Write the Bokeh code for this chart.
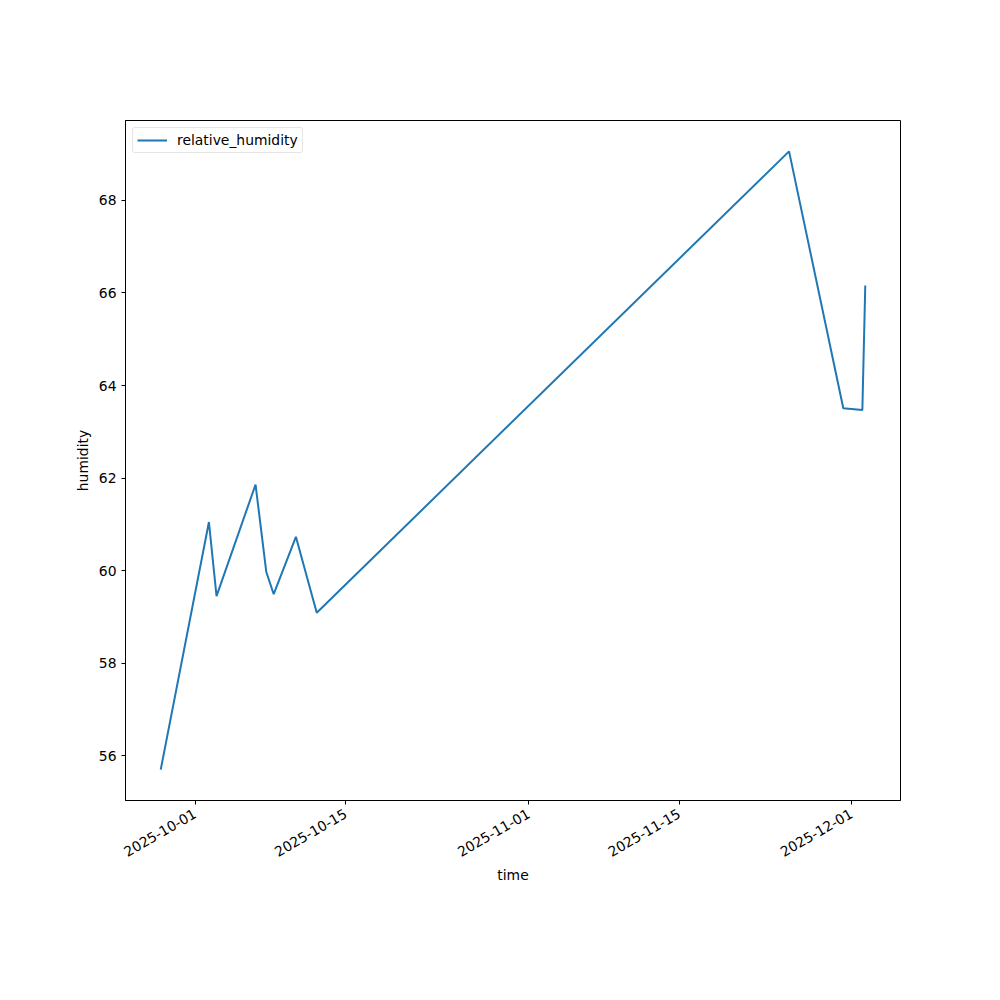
import pandas as pd
from bokeh.plotting import figure
from bokeh.models import FixedTicker, DatetimeTickFormatter, Range1d, Legend, LegendItem
from bokeh.embed import file_html
from bokeh.resources import INLINE
import math

times = ["2025-09-27 19:30", "2025-10-02 07:00", "2025-10-03 00:00", "2025-10-06 15:00",
         "2025-10-07 15:00", "2025-10-08 07:30", "2025-10-10 09:00", "2025-10-12 07:30",
         "2025-11-25 05:00", "2025-11-30 06:00", "2025-12-02 00:30", "2025-12-02 07:00"]
humidity = [55.70, 61.05, 59.45, 61.86, 59.97, 59.49, 60.73, 59.09, 69.06, 63.51, 63.47, 66.16]
tick_dates = ["2025-10-01", "2025-10-15", "2025-11-01", "2025-11-15", "2025-12-01"]
y_ticks = [56, 58, 60, 62, 64, 66, 68]

t = pd.to_datetime(times)
tms = [(x - pd.Timestamp("1970-01-01")) / pd.Timedelta(milliseconds=1) for x in t]
span = tms[-1] - tms[0]
ymin, ymax = min(humidity), max(humidity)
yspan = ymax - ymin

p = figure(width=984, height=984, x_axis_type="datetime", output_backend="svg",
           toolbar_location=None,
           x_range=Range1d(tms[0] - 0.05 * span, tms[-1] + 0.05 * span),
           y_range=Range1d(ymin - 0.05 * yspan, ymax + 0.05 * yspan),
           min_border_left=125, min_border_right=84, min_border_top=120, min_border_bottom=184)

r = p.line(t, humidity, line_color="#1f77b4", line_width=2)

tick_ms = [(pd.Timestamp(d) - pd.Timestamp("1970-01-01")) / pd.Timedelta(milliseconds=1) for d in tick_dates]
p.xaxis.ticker = FixedTicker(ticks=tick_ms)
p.xaxis.formatter = DatetimeTickFormatter(days="%Y-%m-%d", months="%Y-%m-%d", years="%Y-%m-%d",
                                          hours="%Y-%m-%d")
p.xaxis.major_label_orientation = math.pi / 6
p.xaxis.major_label_standoff = 8
p.yaxis.ticker = FixedTicker(ticks=y_ticks)

p.xaxis.axis_label = "time"
p.yaxis.axis_label = "humidity"
for ax in (p.xaxis, p.yaxis):
    ax.axis_label_text_font = "DejaVu Sans"
    ax.axis_label_text_font_style = "normal"
    ax.axis_label_text_font_size = "13.9px"
    ax.axis_label_text_color = "black"
    ax.major_label_text_font = "DejaVu Sans"
    ax.major_label_text_font_size = "13.9px"
    ax.major_label_text_color = "black"
    ax.major_tick_out = 4
    ax.major_tick_in = 0
    ax.minor_tick_out = 0
    ax.minor_tick_in = 0
    ax.axis_line_color = "black"
    ax.major_tick_line_color = "black"
p.xaxis.axis_label_standoff = 2
p.yaxis.axis_label_standoff = 5

p.xgrid.visible = False
p.ygrid.visible = False
p.outline_line_color = "black"
p.outline_line_width = 1

legend = Legend(items=[LegendItem(label="relative_humidity", renderers=[r])], location="top_left")
legend.label_text_font = "DejaVu Sans"
legend.label_text_font_size = "13.9px"
legend.label_text_color = "black"
legend.border_line_color = "#cccccc"
legend.border_radius = 3
legend.margin = 7
legend.padding = 4
legend.glyph_width = 30
legend.glyph_height = 16
legend.label_height = 16
legend.label_standoff = 10
legend.spacing = 0
p.add_layout(legend)

open("out.html", "w").write(file_html(p, INLINE))
